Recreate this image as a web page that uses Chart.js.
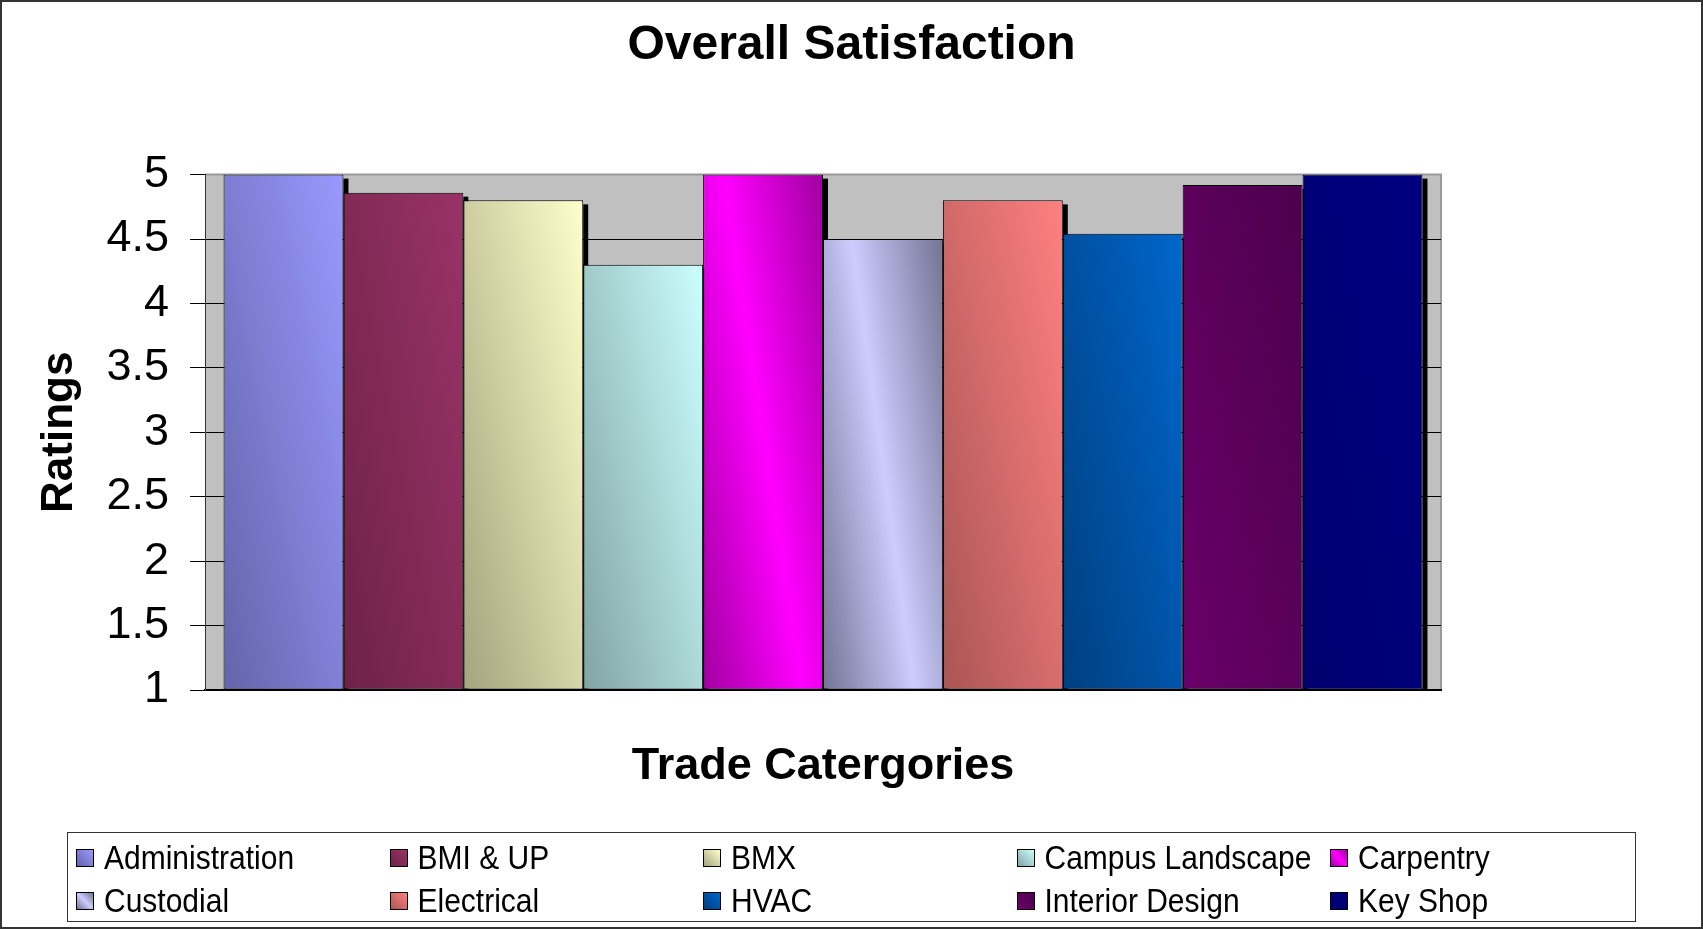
<!DOCTYPE html>
<html>
  <head>
    <title>Overall Satisfaction</title>
    <script src="https://cdn.jsdelivr.net/npm/chart.js@4.4.0/dist/chart.umd.min.js"></script>

    <style>
      body {
        margin: 0;
        background: #fff;
      }

      #wrap {
        position: relative;
        width: 1703px;
        height: 929px;
      }

      #legend {
        position: absolute;
        left: 67px;
        top: 832px;
        width: 1569px;
        height: 90px;
        box-sizing: border-box;
        border: 1px solid #333;
        font-family: Arial, "Liberation Sans", sans-serif;
        font-size: 30px;
        color: #000;
      }

      #legend .item {
        position: absolute;
        height: 36px;
        display: flex;
        align-items: center;
        white-space: nowrap;
      }

      #legend .item span {
        display: inline-block;
        transform: scaleY(1.12);
      }

      #legend .swatch {
        width: 16px;
        height: 16px;
        border: 1px solid #000;
        margin-right: 10px;
      }
    </style>
  </head>
  <body>
    <div id="wrap">
      <canvas id="myChart" width="1703" height="929"></canvas>
      <div id="legend"></div>
    </div>
    <script>
      const trades = [
        "Administration",
        "BMI & UP",
        "BMX",
        "Campus Landscape",
        "Carpentry",
        "Custodial",
        "Electrical",
        "HVAC",
        "Interior Design",
        "Key Shop",
      ];
      const ratings = [5, 4.86, 4.8, 4.3, 5, 4.5, 4.8, 4.54, 4.92, 5];
      const yTickLabels = ["1", "1.5", "2", "2.5", "3", "3.5", "4", "4.5", "5"];

      // fill colours, from the lower left corner of each bar
      const shades = [
        ["#6464aa", "#9999ff"],
        ["#6e2248", "#993366"],
        ["#a4a47e", "#ffffcc"],
        ["#82a4a4", "#ccffff"],
        ["#a000a0", "#ff00ff", "#a000a0"],
        ["#737393", "#ccccff", "#737393"],
        ["#aa5555", "#ff8080"],
        ["#003f7f", "#0066cc"],
        ["#6a006a", "#4c004c"],
        ["#000070", "#000080"],
      ];
      const slopes = [-0.2, -0.2, -0.2, -0.2, -0.155, -0.14, -0.2, -0.2, -0.2, -0.2];

      const FONT = 'Arial, "Liberation Sans", sans-serif';
      const catPct = 0.97;

      function barGradient(ctx, left, top, right, bottom, stops, slope) {
        const cx = (left + right) / 2;
        const cy = (top + bottom) / 2;
        const len = Math.hypot(1, slope);
        const ux = 1 / len;
        const uy = slope / len;
        const ext =
          ((right - left) / 2) * Math.abs(ux) +
          ((bottom - top) / 2) * Math.abs(uy);
        const g = ctx.createLinearGradient(
          cx - ux * ext,
          cy - uy * ext,
          cx + ux * ext,
          cy + uy * ext
        );
        stops.forEach((c, i) => g.addColorStop(i / (stops.length - 1), c));
        return g;
      }

      const wallPlugin = {
        id: "wall",
        beforeDraw(chart) {
          const { ctx, chartArea: a } = chart;
          ctx.save();
          ctx.fillStyle = "#c0c0c0";
          ctx.fillRect(a.left, a.top, a.right - a.left, a.bottom - a.top);
          ctx.strokeStyle = "#999";
          ctx.lineWidth = 2;
          ctx.beginPath();
          ctx.moveTo(a.left, a.top);
          ctx.lineTo(a.right, a.top);
          ctx.lineTo(a.right, a.bottom);
          ctx.stroke();
          ctx.restore();
        },
        beforeDatasetsDraw(chart) {
          // 3d depth edge on the right side of each bar
          const ctx = chart.ctx;
          ctx.save();
          ctx.fillStyle = "#000";
          chart.data.datasets.forEach((ds, i) => {
            const bar = chart.getDatasetMeta(i).data[0];
            if (!bar) return;
            const right = bar.x + bar.width / 2;
            ctx.fillRect(right, bar.y + 4, 5, bar.base - bar.y - 4);
          });
          ctx.restore();
        },
        afterDraw(chart) {
          const ctx = chart.ctx;
          ctx.save();
          ctx.strokeStyle = "#333";
          ctx.lineWidth = 2;
          ctx.strokeRect(1, 1, chart.width - 2, chart.height - 2);
          ctx.restore();
        },
      };

      const datasets = trades.map((name, i) => ({
        label: name,
        data: [ratings[i]],
        base: 1,
        borderColor: "#000",
        borderWidth: 1,
        borderSkipped: false,
        backgroundColor: (c) => {
          const chart = c.chart;
          const area = chart.chartArea;
          if (!area || !chart.scales.x) return shades[i][0];
          const xs = chart.scales.x;
          const ys = chart.scales.y;
          const size = xs.width * catPct;
          const chunk = size / trades.length;
          const left = xs.getPixelForValue(0) - size / 2 + i * chunk;
          return barGradient(
            chart.ctx,
            left,
            ys.getPixelForValue(ratings[i]),
            left + chunk,
            ys.getPixelForValue(1),
            shades[i],
            slopes[i]
          );
        },
      }));

      const chart = new Chart(document.getElementById("myChart"), {
        type: "bar",
        data: {
          labels: [""],
          datasets: datasets,
        },
        plugins: [wallPlugin],
        options: {
          responsive: false,
          animation: false,
          layout: {
            padding: 0,
          },
          datasets: {
            bar: {
              categoryPercentage: catPct,
              barPercentage: 1,
            },
          },
          plugins: {
            legend: { display: false },
            tooltip: { enabled: false },
            title: {
              display: true,
              text: "Overall Satisfaction",
              color: "#000",
              font: { family: FONT, size: 48, weight: "bold" },
              padding: { top: 17, bottom: 100 },
            },
          },
          scales: {
            x: {
              type: "category",
              grid: { display: false },
              ticks: { display: false },
              border: { display: true, color: "#000", width: 2 },
              title: {
                display: true,
                text: "Trade Catergories",
                color: "#000",
                font: { family: FONT, size: 45, weight: "bold" },
                padding: { top: 0, bottom: 135 },
              },
              afterFit: (s) => {
                s.height = 239;
              },
            },
            y: {
              type: "linear",
              min: 1,
              max: 5,
              ticks: {
                stepSize: 0.5,
                color: "#000",
                padding: 21,
                font: { family: FONT, size: 45 },
                callback: (v, i) => yTickLabels[i],
              },
              grid: {
                color: (c) =>
                  c.tick && c.tick.value === 5 ? "#999" : "#000",
                tickColor: "#000",
                tickLength: 15,
                lineWidth: 1,
              },
              border: { display: true, color: "#333", width: 1 },
              title: {
                display: true,
                text: "Ratings",
                color: "#000",
                font: { family: FONT, size: 44, weight: "bold" },
                padding: { top: 33, bottom: 0 },
              },
              afterFit: (s) => {
                s.width = 205;
              },
            },
            // empty space on the right of the plot
            yRight: {
              type: "linear",
              position: "right",
              display: true,
              grid: { display: false },
              ticks: { display: false },
              border: { display: false },
              afterFit: (s) => {
                s.width = 262;
              },
            },
          },
        },
      });

      // Legend, 5 per row
      const legend = document.getElementById("legend");
      trades.forEach((name, i) => {
        const col = i % 5;
        const row = Math.floor(i / 5);
        const item = document.createElement("div");
        item.className = "item";
        item.style.left = 8 + col * 313.5 + "px";
        item.style.top = 7 + row * 43 + "px";
        const sw = document.createElement("div");
        sw.className = "swatch";
        sw.style.background = `linear-gradient(to top right, ${shades[i].join(", ")})`;
        const txt = document.createElement("span");
        txt.textContent = name;
        item.appendChild(sw);
        item.appendChild(txt);
        legend.appendChild(item);
      });
    </script>
  </body>
</html>
